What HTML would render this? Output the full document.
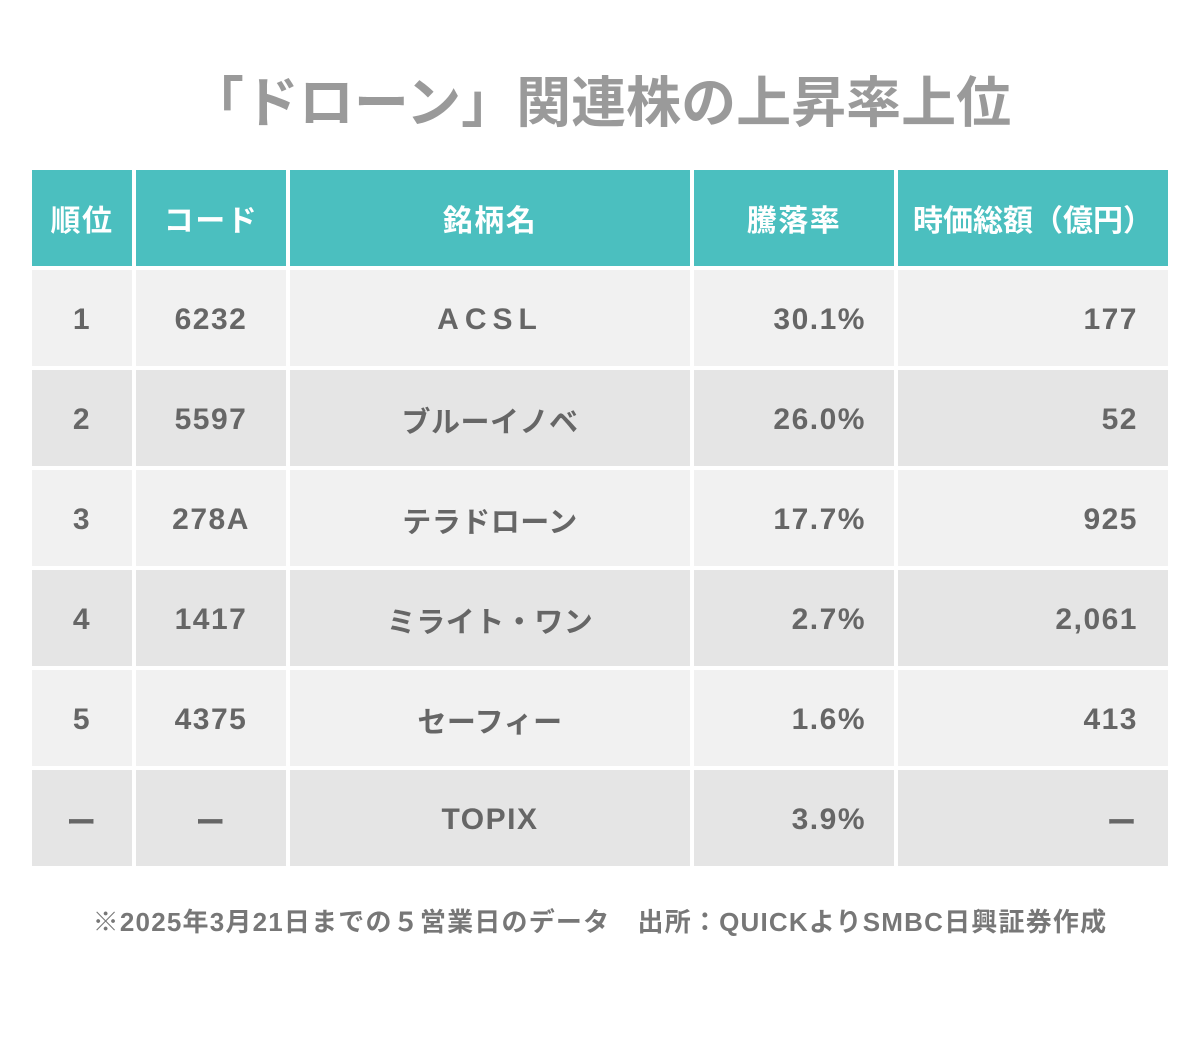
<!DOCTYPE html>
<html><head><meta charset="utf-8"><style>
body{margin:0;width:1200px;height:1064px;background:#fff;font-family:"Liberation Sans","Noto Sans CJK JP",sans-serif;position:relative;overflow:hidden}
.t{position:absolute;top:58px;left:0;width:1200px;text-align:center;font-size:55px;font-weight:bold;color:#9a9a9a;letter-spacing:0px}
.c{position:absolute;display:flex;align-items:center;justify-content:center;box-sizing:border-box;font-weight:bold;color:#666;font-size:30px;letter-spacing:1.5px;padding-top:4px}
.h{background:#4bbfbf;color:#fff;font-size:30px;padding-top:0}
.a{background:#f1f1f1}.b{background:#e5e5e5}
.f{position:absolute;top:902px;left:0;width:1200px;text-align:center;font-size:26px;font-weight:bold;color:#777;letter-spacing:1.2px}
</style></head><body>
<div class="t">「ドローン」関連株の上昇率上位</div>
<div id="tb"></div>
<div class="f">※2025年3月21日までの５営業日のデータ　出所：QUICKよりSMBC日興証券作成</div>
<script>
var cols=[[32,100],[136,150],[290,400],[694,200],[898,270]];
var rows=[["順位","コード","銘柄名","騰落率","時価総額（億円）"],
["1","6232","ACSL","30.1%","177"],["2","5597","ブルーイノベ","26.0%","52"],
["3","278A","テラドローン","17.7%","925"],["4","1417","ミライト・ワン","2.7%","2,061"],
["5","4375","セーフィー","1.6%","413"],["ー","ー","TOPIX","3.9%","ー"]];
var h="";
rows.forEach(function(r,i){
 var top=i==0?170:270+(i-1)*100, ht=96;
 r.forEach(function(v,j){
  var cls=i==0?"h":(i%2?"a":"b");
  var st="";
  if(i>0&&j==3)st+="justify-content:flex-end;padding-right:28px;";
  if(i>0&&j==4)st+="justify-content:flex-end;padding-right:30px;";
  if(v=="ACSL")st+="letter-spacing:6px;";
  if(i>0&&j==2&&v!="ACSL"&&v!="TOPIX")st+="font-size:29px;letter-spacing:0.5px;";
  if(i==0&&j==4)st+="letter-spacing:0;";
  h+='<div class="c '+cls+'" style="left:'+cols[j][0]+'px;top:'+top+'px;width:'+cols[j][1]+'px;height:'+ht+'px;'+st+'">'+v+'</div>';
 });
});
document.getElementById("tb").innerHTML=h;
</script>
</body></html>
